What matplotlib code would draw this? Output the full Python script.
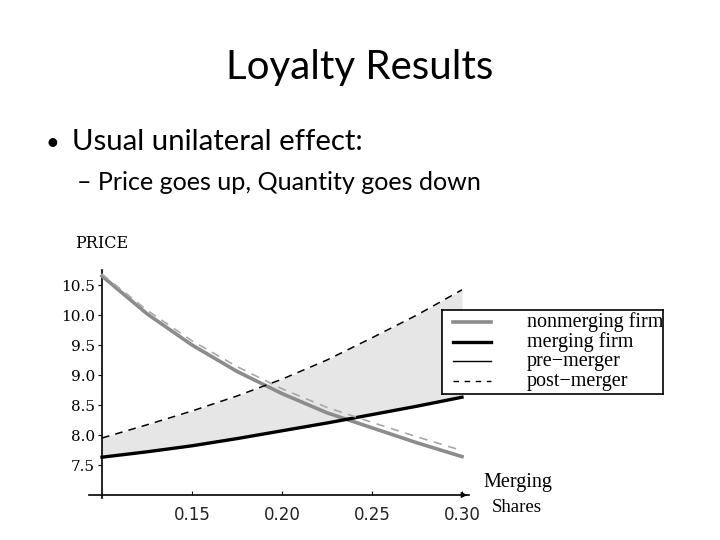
import matplotlib
matplotlib.use("Agg")

import matplotlib.pyplot as plt

# merging firm's share on the x axis
shares = [0.10, 0.125, 0.15, 0.175, 0.20, 0.225, 0.25, 0.275, 0.30]

# prices
nonmerging_pre = [10.65, 10.02, 9.50, 9.06, 8.69, 8.37, 8.12, 7.87, 7.64]
nonmerging_post = [10.68, 10.08, 9.57, 9.14, 8.77, 8.46, 8.21, 7.97, 7.74]
merging_pre = [7.63, 7.72, 7.82, 7.94, 8.07, 8.20, 8.34, 8.48, 8.63]
merging_post = [7.95, 8.17, 8.40, 8.65, 8.93, 9.25, 9.62, 10.00, 10.42]

x_ticks = [0.15, 0.20, 0.25, 0.30]
y_ticks = [7.5, 8.0, 8.5, 9.0, 9.5, 10.0, 10.5]

legend_labels = ['nonmerging firm', 'merging firm', 'pre\u2212merger', 'post\u2212merger']

SLIDE_FONT = 'Lato'
MATH_FONT = 'DejaVu Serif'
GRAY = '#8c8c8c'
LIGHT_GRAY = '#a8a8a8'
FILL = '#e6e6e6'


def px(x, y):
    # pixel position on the 720x540 slide -> figure fraction
    return x / 720.0, 1 - y / 540.0


fig = plt.figure(figsize=(7.2, 5.4), dpi=100)
fig.patch.set_facecolor('white')

# slide texts
fig.text(*px(360, 68), 'Loyalty Results', ha='center', va='center', fontsize=29, family=SLIDE_FONT)
fig.text(*px(46, 150), '\u2022', ha='left', va='baseline', fontsize=17, family=SLIDE_FONT)
fig.text(*px(72, 150), 'Usual unilateral effect:', ha='left', va='baseline', fontsize=21.2, family=SLIDE_FONT)
fig.text(*px(77, 190), '\u2013 Price goes up, Quantity goes down', ha='left', va='baseline',
         fontsize=18.1, family=SLIDE_FONT)

# chart axes: 0.09..0.31 by 6.9..10.8
left, top = px(84, 267)
right, bottom = px(480, 501)
ax = fig.add_axes([left, bottom, right - left, top - bottom])
ax.set_xlim(0.09, 0.31)
ax.set_ylim(6.9, 10.8)
ax.set_facecolor('none')

ax.fill_between(shares, merging_pre, merging_post, color=FILL, lw=0, zorder=1)
ax.plot(shares, nonmerging_pre, color=GRAY, lw=2.6, zorder=3)
ax.plot(shares, nonmerging_post, color=LIGHT_GRAY, lw=1.2, ls=(0, (5, 4)), zorder=4)
ax.plot(shares, merging_pre, color='black', lw=2.4, zorder=3)
ax.plot(shares, merging_post, color='black', lw=1.1, ls=(0, (5, 4)), zorder=4)

for side in ['top', 'right']:
    ax.spines[side].set_visible(False)
ax.spines['left'].set_position(('data', 0.10))
ax.spines['bottom'].set_position(('data', 7.0))
ax.spines['left'].set_bounds(6.95, 10.75)
ax.spines['bottom'].set_bounds(0.093, 0.304)
ax.spines['left'].set_linewidth(1.2)
ax.spines['bottom'].set_linewidth(1.2)
ax.annotate('', xy=(0.3045, 7.0), xytext=(0.300, 7.0),
            arrowprops=dict(arrowstyle='-|>', color='black', lw=1.0, mutation_scale=8))

ax.set_xticks(x_ticks)
ax.set_xticklabels(['%.2f' % v for v in x_ticks], family='DejaVu Sans', fontsize=12, color='#222222')
ax.set_yticks(y_ticks)
ax.set_yticklabels(['%.1f' % v for v in y_ticks], family=MATH_FONT, fontsize=11)
ax.tick_params(axis='x', direction='in', length=3, pad=8)
ax.tick_params(axis='y', direction='out', length=3, pad=2)

fig.text(*px(75, 243), 'PRICE', ha='left', va='center', fontsize=11.5, family=MATH_FONT)
fig.text(*px(483, 483), 'Merging', ha='left', va='center', fontsize=14.5, family='Liberation Serif')
fig.text(*px(492, 507), 'Shares', ha='left', va='center', fontsize=13.5, family='Liberation Serif')

# legend box, text clipped at the right edge like the original
l_left, l_top = px(442, 310)
l_right, l_bottom = px(663, 394)
lax = fig.add_axes([l_left, l_bottom, l_right - l_left, l_top - l_bottom])
lax.set_xlim(0, 1)
lax.set_ylim(0, 1)
lax.set_facecolor('white')
lax.set_xticks([])
lax.set_yticks([])
for s in lax.spines.values():
    s.set_linewidth(1.2)

rows = [0.86, 0.62, 0.39, 0.15]
styles = [dict(color=GRAY, lw=2.6), dict(color='black', lw=2.4),
          dict(color='black', lw=1.0), dict(color='black', lw=1.0, ls=(0, (4, 4)))]
for yy, label, st in zip(rows, legend_labels, styles):
    lax.plot([0.05, 0.22], [yy, yy], **st)
    lax.text(0.385, yy, label, ha='left', va='center', fontsize=14.5,
             family='Liberation Serif', clip_on=True)

fig.savefig('out.png', dpi=100, facecolor='white')
